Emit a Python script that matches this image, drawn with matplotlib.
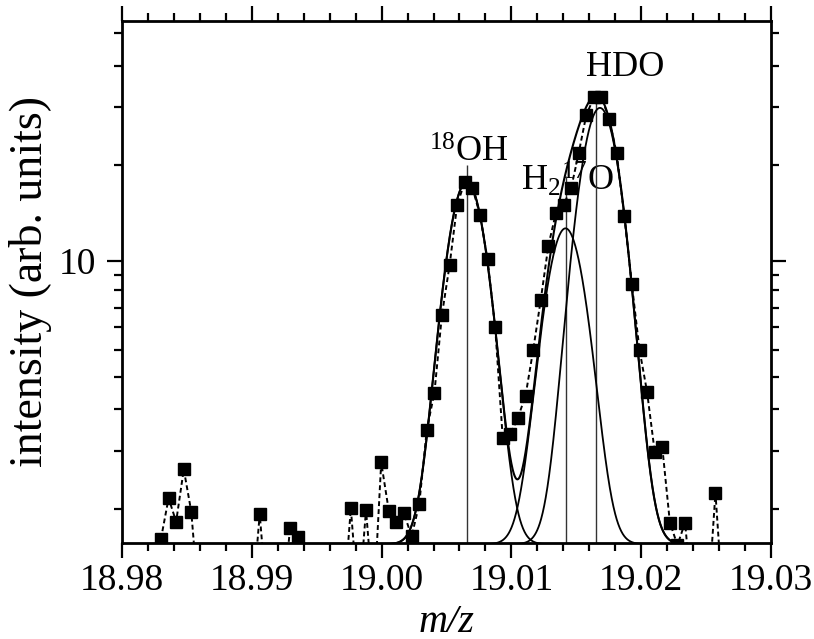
import numpy as np
import matplotlib
matplotlib.use("Agg")
import matplotlib.pyplot as plt
from matplotlib.ticker import FixedLocator, NullFormatter, FixedFormatter

plt.rcParams['font.family'] = ['Liberation Serif', 'DejaVu Serif']
plt.rcParams['mathtext.fontset'] = 'custom'
plt.rcParams['mathtext.rm'] = 'Liberation Serif'
plt.rcParams['mathtext.it'] = 'Liberation Serif:italic'

# ---- measured data (m/z, intensity); zeros fall below the axis ----
mz = [18.98300, 18.98359, 18.98417, 18.98476, 18.98534, 18.98593, 18.98651,
      18.98710, 18.98768, 18.98827, 18.98885, 18.98944, 18.99002, 18.99061,
      18.99119, 18.99178, 18.99236, 18.99295, 18.99353, 18.99412, 18.99470,
      18.99529, 18.99587, 18.99646, 18.99705, 18.99763, 18.99822, 18.99880,
      18.99939, 18.99997, 19.00056, 19.00114, 19.00173, 19.00231, 19.00290,
      19.00348, 19.00407, 19.00465, 19.00524, 19.00582, 19.00641, 19.00699,
      19.00758, 19.00816, 19.00875, 19.00933, 19.00992, 19.01050, 19.01109,
      19.01168, 19.01226, 19.01285, 19.01343, 19.01402, 19.01460, 19.01519,
      19.01577, 19.01636, 19.01694, 19.01753, 19.01811, 19.01870, 19.01928,
      19.01987, 19.02045, 19.02104, 19.02162, 19.02221, 19.02279, 19.02338,
      19.02396, 19.02455, 19.02513, 19.02572, 19.02631]
intensity = [0.62, 1.16, 0.83, 1.64, 0.96, 0, 0, 0, 0, 0, 0, 0, 0, 0.93,
             0, 0, 0, 0.75, 0.64, 0, 0, 0, 0, 0, 0, 1.01, 0, 0.99, 0, 1.77,
             0.97, 0.83, 0.94, 0.65, 1.07, 2.47, 3.48, 6.63, 9.68, 15.03,
             17.77, 17.02, 14.01, 10.10, 6.00, 2.29, 2.36, 2.77, 3.39, 5.00,
             7.43, 11.18, 14.21, 15.07, 16.94, 21.81, 28.42, 32.15, 32.28,
             27.58, 21.72, 13.88, 8.37, 5.00, 3.51, 1.98, 2.09, 0.82, 0.55,
             0.82, 0, 0, 0, 1.24, 0]

# ---- Gaussian fit components: 18OH, H2 17O, HDO ----
peak_names = [r'$^{18}$OH', r'H$_2$$^{17}$O', 'HDO']
fit_center = [19.00656, 19.01417, 19.01682]
fit_height = [17.2, 12.13, 29.3]
fit_sigma = [0.00144, 0.00145, 0.00150]
baseline = 0.56

# nominal masses (vertical lines) and their top values
line_mz = [19.00656, 19.01418, 19.01649]
line_top = [20.0, 18.5, 33.0]

# label anchor positions (data coords)
label_x = [19.00668, 19.01433, 19.01875]
label_y = [20.5, 16.7, 37.3]

x_min, x_max = 18.98, 19.03
y_min, y_max = 0.571, 54.5
OFF = 1.09


def fwd(v):
    return np.log10(np.clip(np.asarray(v, dtype=float) + OFF, 1e-6, None))


def inv(u):
    return 10 ** np.asarray(u, dtype=float) - OFF


fig = plt.figure(figsize=(8.14, 6.39), dpi=100)
ax = fig.add_axes([122 / 814, 1 - 543.3 / 639, 649 / 814, 522.6 / 639])
ax.set_yscale('function', functions=(fwd, inv))
ax.set_xlim(x_min, x_max)
ax.set_ylim(y_min, y_max)

# fitted curves
xf = np.linspace(x_min, x_max, 3000)
comps = []
for c, h, s in zip(fit_center, fit_height, fit_sigma):
    g = h * np.exp(-(xf - c) ** 2 / (2 * s ** 2))
    comps.append(g)
    ax.plot(xf, baseline + g, color='black', lw=1.3, zorder=3)
ax.plot(xf, baseline + np.sum(comps, axis=0), color='black', lw=1.5, zorder=3)

# vertical lines at nominal masses
ax.vlines(line_mz, y_min, line_top, color='#333333', lw=1.0, zorder=2)

# data
ax.plot(mz, intensity, ls=(0, (2.5, 1.6)), color='black', lw=1.4,
        marker='s', ms=8.5, mfc='black', mec='black', zorder=4)

# labels
for name, lx, ly in zip(peak_names, label_x, label_y):
    ax.text(lx, ly, name, fontsize=26, ha='center', va='baseline', zorder=1)

# ticks
ax.xaxis.set_major_locator(FixedLocator([18.98, 18.99, 19.00, 19.01, 19.02, 19.03]))
ax.xaxis.set_major_formatter(FixedFormatter(['18.98', '18.99', '19.00', '19.01', '19.02', '19.03']))
ax.xaxis.set_minor_locator(FixedLocator(np.arange(18.98, 19.0301, 0.002)))
ax.yaxis.set_major_locator(FixedLocator([10]))
ax.yaxis.set_major_formatter(FixedFormatter(['10']))
ax.yaxis.set_minor_locator(FixedLocator([1, 2, 3, 4, 5, 6, 7, 8, 9, 20, 30, 40, 50]))
ax.yaxis.set_minor_formatter(NullFormatter())

ax.tick_params(which='both', direction='out', top=True, right=True, width=1.6,
               labelsize=27, colors='black')
ax.tick_params(axis='x', which='major', length=10.5, pad=4)
ax.tick_params(axis='y', which='major', length=10.5, pad=8)
ax.tick_params(which='minor', length=5.5)
for sp in ax.spines.values():
    sp.set_linewidth(2.0)

fig.text(446 / 814, 1 - 622 / 639, 'm/z', fontsize=29, style='italic',
         ha='center', va='center')
fig.text(31 / 814, 1 - 282 / 639, 'intensity (arb. units)', fontsize=33,
         rotation=90, ha='center', va='center')

fig.savefig('out.png', dpi=100)
